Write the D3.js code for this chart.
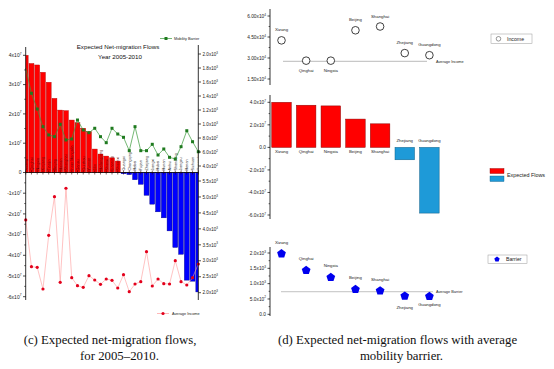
<!DOCTYPE html>
<html><head><meta charset="utf-8">
<script src="https://cdnjs.cloudflare.com/ajax/libs/d3/7.8.5/d3.min.js"></script>
<style>body{margin:0;background:#fff}svg{display:block}text{font-family:"Liberation Sans",Arial,sans-serif}</style>
</head><body>
<script>
// ---------- Panel (c) data ----------
const provinces = ["Xizang","Qinghai","Ningxia","Xinjiang","Tianjin","Beijing","Hainan","Shanghai","Inner Mongolia","Gansu","Guizhou","Yunnan","Jilin","Heilongjiang","Shanxi","Liaoning","Shaanxi",
  "Guangxi","Chongqing","Hebei","Fujian","Zhejiang","Jiangxi","Hubei","Hunan","Anhui","Shandong","Jiangsu","Henan","Sichuan","Guangdong"];
const flows = [4.0e7,3.72e7,3.67e7,3.42e7,3.08e7,2.53e7,2.13e7,2.11e7,1.79e7,1.70e7,1.51e7,1.39e7,0.80e7,0.63e7,0.56e7,0.50e7,0.39e7,
  -0.06e7,-0.1e7,-0.35e7,-0.57e7,-1.1e7,-1.53e7,-1.9e7,-2.19e7,-2.82e7,-3.62e7,-3.95e7,-5.2e7,-5.25e7,-5.77e7];
const mobilityBarrier = [1800,1439,1214,962,843,819,996,772,786,1057,914,876,939,819,733,939,857,
  810,619,962,619,619,710,557,643,524,500,676,904,747,604];
const avgIncomeC = [4279,2815,2796,2116,3799,5009,2326,5273,2470,2219,2169,2533,2398,2263,2429,2389,2147,
  2564,2031,2273,2345,3285,2210,2429,2282,2273,3003,2345,2241,2470,2900];
const cLeftTicksPos = [0,1e7,2e7,3e7,4e7];
const cLeftLabelsPos = ["0","1x10^7","2x10^7","3x10^7","4x10^7"];
const cLeftTicksNeg = [-1e7,-2e7,-3e7,-4e7,-5e7,-6e7];
const cLeftLabelsNeg = ["-1x10^7","-2x10^7","-3x10^7","-4x10^7","-5x10^7","-6x10^7"];
const cBarrierTicks = [400,600,800,1000,1200,1400,1600,1800,2000];
const cBarrierLabels = ["4.0x10^2","6.0x10^2","8.0x10^2","1.0x10^3","1.2x10^3","1.4x10^3","1.6x10^3","1.8x10^3","2.0x10^3"];
const cIncomeTicks = [2000,2500,3000,3500,4000,4500,5000,5500];
const cIncomeLabels = ["2.0x10^3","2.5x10^3","3.0x10^3","3.5x10^3","4.0x10^3","4.5x10^3","5.0x10^3","5.5x10^3"];

// ---------- Panel (d) data ----------
const dProvinces = ["Xizang","Qinghai","Ningxia","Beijing","Shanghai","Zhejiang","Guangdong"];
const dIncome = [4.26e4,2.81e4,2.81e4,4.98e4,5.25e4,3.35e4,3.2e4];
const dFlows = [4.0e7,3.74e7,3.68e7,2.51e7,2.09e7,-1.1e7,-5.83e7];
const dBarrier = [1978,1434,1206,814,768,596,587];
const averageIncome = 2.76e4;
const averageBarrier = 737;
const dIncTicks = [1.5e4,3.0e4,4.5e4,6.0e4];
const dIncLabels = ["1.50x10^4","3.00x10^4","4.50x10^4","6.00x10^4"];
const dFlowTicks = [-6e7,-4e7,-2e7,0,2e7,4e7];
const dFlowLabels = ["-6.0x10^7","-4.0x10^7","-2.0x10^7","0.0","2.0x10^7","4.0x10^7"];
const dBarTicks = [0,500,1000,1500,2000];
const dBarLabels = ["0.0","5.0x10^2","1.0x10^3","1.5x10^3","2.0x10^3"];

const svg = d3.select("body").append("svg").attr("width",554).attr("height",369);

function sci(sel, label, fs){
  const p = label.split("^");
  sel.text(null);
  sel.append("tspan").text(p[0]);
  if(p.length>1) sel.append("tspan").attr("dy",-fs*0.45).attr("font-size",fs*0.65).text(p[1]);
}
function axisV(g, x, y0, y1, ticks, labels, scale, side, fs, minor){
  g.append("line").attr("x1",x).attr("x2",x).attr("y1",y0).attr("y2",y1).attr("stroke","#000").attr("stroke-width",0.8);
  const dir = side==="left"?-1:1;
  ticks.forEach((t,i)=>{
    const y = scale(t);
    g.append("line").attr("x1",x).attr("x2",x+dir*2.5).attr("y1",y).attr("y2",y).attr("stroke","#000").attr("stroke-width",0.7);
    const tx = g.append("text").attr("x",x+dir*4).attr("y",y+fs*0.35).attr("font-size",fs).attr("fill","#222")
      .attr("text-anchor",side==="left"?"end":"start");
    sci(tx, labels[i], fs);
    if(minor && i<ticks.length-1){
      const ym = scale((t+ticks[i+1])/2);
      g.append("line").attr("x1",x).attr("x2",x+dir*1.4).attr("y1",ym).attr("y2",ym).attr("stroke","#000").attr("stroke-width",0.6);
    }
  });
}

// ================= Panel (c) =================
const gc = svg.append("g");
const xC = d3.scaleLinear().domain([0,30]).range([25.7,198.3]);
const yTop = d3.scaleLinear().domain([0,4e7]).range([172.5,55.3]);
const yBot = d3.scaleLinear().domain([0,-6e7]).range([172.5,296.7]);
const yBarrierC = d3.scaleLinear().domain([400,2000]).range([166,54]);
const yIncomeC = d3.scaleLinear().domain([2000,5500]).range([292.7,181]);
const bw = 4.9;

gc.append("clipPath").attr("id","cclip").append("rect").attr("x",25.7).attr("y",40).attr("width",172.6).attr("height",270);
const bars = gc.append("g").attr("clip-path","url(#cclip)");
flows.forEach((v,i)=>{
  const x = xC(i)-bw/2;
  if(v>=0){
    bars.append("rect").attr("x",x).attr("width",bw).attr("y",yTop(v)).attr("height",yTop(0)-yTop(v))
      .attr("fill","#ff0000").attr("stroke","#b00000").attr("stroke-width",0.4);
  } else {
    bars.append("rect").attr("x",x).attr("width",bw).attr("y",yBot(0)).attr("height",yBot(v)-yBot(0))
      .attr("fill","#0000ff").attr("stroke","#000080").attr("stroke-width",0.4);
  }
});
// province labels
provinces.forEach((p,i)=>{
  bars.append("text").attr("transform",`translate(${xC(i)+1.4},170.5) rotate(-90)`)
    .attr("font-size",3.8).attr("fill",flows[i]>=0?"#5a0000":"#222").text(p);
});
// zero axis
gc.append("line").attr("x1",25.7).attr("x2",198.3).attr("y1",172.5).attr("y2",172.5).attr("stroke","#000").attr("stroke-width",0.8);
flows.forEach((v,i)=>{
  gc.append("line").attr("x1",xC(i)).attr("x2",xC(i)).attr("y1",170.5).attr("y2",174.5).attr("stroke","#300").attr("stroke-width",0.6);
});
// income line (bottom)
const lineInc = d3.line().x((d,i)=>xC(i)).y(d=>yIncomeC(d));
gc.append("path").attr("d",lineInc(avgIncomeC)).attr("fill","none").attr("stroke","#ff9a9a").attr("stroke-width",0.6);
avgIncomeC.forEach((v,i)=>gc.append("circle").attr("cx",xC(i)).attr("cy",yIncomeC(v)).attr("r",1.6).attr("fill","#e3001b"));
// barrier line (top)
const lineBar = d3.line().x((d,i)=>xC(i)).y(d=>yBarrierC(d));
gc.append("path").attr("d",lineBar(mobilityBarrier)).attr("fill","none").attr("stroke","#3a9a3a").attr("stroke-width",0.7);
mobilityBarrier.forEach((v,i)=>{ if(i>0) gc.append("rect").attr("x",xC(i)-1.5).attr("y",yBarrierC(v)-1.5).attr("width",3).attr("height",3).attr("fill","#1f7a1f"); });
// axes
const gl = gc.append("g");
gl.append("line").attr("x1",25.7).attr("x2",25.7).attr("y1",47).attr("y2",300).attr("stroke","#000").attr("stroke-width",0.8);
cLeftTicksPos.forEach((t,i)=>{
  const y=yTop(t);
  gl.append("line").attr("x1",25.7).attr("x2",23).attr("y1",y).attr("y2",y).attr("stroke","#000").attr("stroke-width",0.7);
  sci(gl.append("text").attr("x",21.5).attr("y",y+1.8).attr("font-size",5).attr("text-anchor","end").attr("fill","#222"), cLeftLabelsPos[i], 5);
  if(i<cLeftTicksPos.length-1){const ym=yTop(t+5e6);gl.append("line").attr("x1",25.7).attr("x2",24.2).attr("y1",ym).attr("y2",ym).attr("stroke","#000").attr("stroke-width",0.6);}
});
cLeftTicksNeg.forEach((t,i)=>{
  const y=yBot(t);
  gl.append("line").attr("x1",25.7).attr("x2",23).attr("y1",y).attr("y2",y).attr("stroke","#000").attr("stroke-width",0.7);
  sci(gl.append("text").attr("x",21.5).attr("y",y+1.8).attr("font-size",5).attr("text-anchor","end").attr("fill","#222"), cLeftLabelsNeg[i], 5);
  const ym=yBot(t+5e6);gl.append("line").attr("x1",25.7).attr("x2",24.2).attr("y1",ym).attr("y2",ym).attr("stroke","#000").attr("stroke-width",0.6);
});
const gr = gc.append("g");
gr.append("line").attr("x1",198.3).attr("x2",198.3).attr("y1",45).attr("y2",300).attr("stroke","#000").attr("stroke-width",0.8);
cBarrierTicks.forEach((t,i)=>{
  const y=yBarrierC(t);
  gr.append("line").attr("x1",198.3).attr("x2",201).attr("y1",y).attr("y2",y).attr("stroke","#000").attr("stroke-width",0.7);
  sci(gr.append("text").attr("x",202.5).attr("y",y+1.7).attr("font-size",4.6).attr("fill","#222"), cBarrierLabels[i], 4.6);
});
cIncomeTicks.forEach((t,i)=>{
  const y=yIncomeC(t);
  gr.append("line").attr("x1",198.3).attr("x2",201).attr("y1",y).attr("y2",y).attr("stroke","#000").attr("stroke-width",0.7);
  sci(gr.append("text").attr("x",202.5).attr("y",y+1.7).attr("font-size",4.6).attr("fill","#222"), cIncomeLabels[i], 4.6);
});
// title
gc.append("text").attr("x",118).attr("y",48.5).attr("text-anchor","middle").attr("font-size",6.2).attr("fill","#111").text("Expected Net-migration Flows");
gc.append("text").attr("x",120).attr("y",59).attr("text-anchor","middle").attr("font-size",6.2).attr("fill","#111").text("Year 2005-2010");
// legends (c)
gc.append("line").attr("x1",160).attr("x2",172).attr("y1",38.5).attr("y2",38.5).attr("stroke","#3a9a3a").attr("stroke-width",0.7);
gc.append("rect").attr("x",164.5).attr("y",37).attr("width",3).attr("height",3).attr("fill","#1f7a1f");
gc.append("text").attr("x",174).attr("y",40).attr("font-size",3.8).attr("fill","#222").text("Mobility Barrier");
gc.append("line").attr("x1",157).attr("x2",169).attr("y1",313.5).attr("y2",313.5).attr("stroke","#ff9a9a").attr("stroke-width",0.7);
gc.append("circle").attr("cx",163).attr("cy",313.5).attr("r",1.6).attr("fill","#e3001b");
gc.append("text").attr("x",172).attr("y",315).attr("font-size",3.8).attr("fill","#222").text("Average Income");

// ================= Panel (d) =================
const gd = svg.append("g");
const xD = d3.scaleLinear().domain([0,6]).range([281.5,429.4]);
const yInc = d3.scaleLinear().domain([1.5e4,6e4]).range([79,16]);
const yFlow = d3.scaleLinear().domain([-6e7,4e7]).range([215,102.3]);
const yBarD = d3.scaleLinear().domain([0,2000]).range([314.3,253]);

axisV(gd,270,9,85,dIncTicks,dIncLabels,yInc,"left",4.8,true);
axisV(gd,270,95,219,dFlowTicks,dFlowLabels,yFlow,"left",4.8,true);
axisV(gd,270,247,316,dBarTicks,dBarLabels,yBarD,"left",4.8,true);

// income sub-plot
gd.append("line").attr("x1",283).attr("x2",427).attr("y1",yInc(averageIncome)).attr("y2",yInc(averageIncome)).attr("stroke","#c8c8c8").attr("stroke-width",1.2);
gd.append("text").attr("x",436).attr("y",yInc(averageIncome)+1.8).attr("font-size",3.8).attr("fill","#222").text("Average Income");
const incLabelBelow = [false,true,true,false,false,false,false];
dIncome.forEach((v,i)=>{
  gd.append("circle").attr("cx",xD(i)).attr("cy",yInc(v)).attr("r",3.8).attr("fill","#fff").attr("stroke","#111").attr("stroke-width",0.8);
  gd.append("text").attr("x",xD(i)).attr("y",incLabelBelow[i]?yInc(v)+11:yInc(v)-9).attr("text-anchor","middle").attr("font-size",4.3).attr("fill","#222").text(dProvinces[i]);
});
// flows sub-plot
const bwD = 19.5;
dFlows.forEach((v,i)=>{
  const y0 = yFlow(Math.max(0,v)), y1 = yFlow(Math.min(0,v));
  gd.append("rect").attr("x",xD(i)-bwD/2).attr("width",bwD).attr("y",y0).attr("height",y1-y0)
    .attr("fill",v>=0?"#ff0000":"#1e9ad8").attr("stroke",v>=0?"#8a0000":"#0d5f88").attr("stroke-width",0.5);
  gd.append("text").attr("x",xD(i)).attr("y",v>=0?yFlow(0)+5.5:yFlow(0)-5).attr("text-anchor","middle").attr("font-size",4.3).attr("fill","#222").text(dProvinces[i]);
});
// barrier sub-plot
gd.append("line").attr("x1",281).attr("x2",433).attr("y1",yBarD(averageBarrier)).attr("y2",yBarD(averageBarrier)).attr("stroke","#999").attr("stroke-width",0.6);
gd.append("text").attr("x",436).attr("y",yBarD(averageBarrier)+1.5).attr("font-size",3.8).attr("fill","#222").text("Average Barrier");
function pentagon(cx,cy,r){
  return d3.range(5).map(k=>{const a=(-90+72*k)*Math.PI/180;return [cx+r*Math.cos(a),cy+r*Math.sin(a)];});
}
const barLabelBelow = [false,false,false,false,false,true,true];
dBarrier.forEach((v,i)=>{
  gd.append("polygon").attr("points",pentagon(xD(i),yBarD(v),4.6).map(p=>p.join(",")).join(" ")).attr("fill","#0000ee");
  gd.append("text").attr("x",xD(i)).attr("y",barLabelBelow[i]?yBarD(v)+(i===5?13:10):yBarD(v)-10).attr("text-anchor","middle").attr("font-size",4.3).attr("fill","#222").text(dProvinces[i]);
});
// legends (d)
gd.append("rect").attr("x",491).attr("y",34).attr("width",41).attr("height",9.5).attr("fill","#fff").attr("stroke","#999").attr("stroke-width",0.5);
gd.append("circle").attr("cx",498.5).attr("cy",38.8).attr("r",2.3).attr("fill","#fff").attr("stroke","#333").attr("stroke-width",0.5);
gd.append("text").attr("x",507).attr("y",40.8).attr("font-size",5.2).attr("fill","#222").text("Income");
gd.append("rect").attr("x",490).attr("y",168.5).attr("width",14).attr("height",5).attr("fill","#ff0000").attr("stroke","#8a0000").attr("stroke-width",0.4);
gd.append("rect").attr("x",490).attr("y",176).attr("width",14).attr("height",5.5).attr("fill","#1e9ad8").attr("stroke","#0d5f88").attr("stroke-width",0.4);
gd.append("text").attr("x",507).attr("y",176.8).attr("font-size",5.4).attr("fill","#222").text("Expected Flows");
gd.append("rect").attr("x",488).attr("y",255).attr("width",39).attr("height",8.5).attr("fill","#fff").attr("stroke","#999").attr("stroke-width",0.5);
gd.append("polygon").attr("points",pentagon(497,259.3,2.8).map(p=>p.join(",")).join(" ")).attr("fill","#0000ee");
gd.append("text").attr("x",506).attr("y",261.3).attr("font-size",5.2).attr("fill","#222").text("Barrier");

// ================= Captions =================
const cap = svg.append("g").attr("fill","#111");
cap.append("text").attr("x",110).attr("y",344).attr("text-anchor","middle").attr("font-size",12.8).style("font-family","'Liberation Serif',serif").text("(c) Expected net-migration flows,");
cap.append("text").attr("x",119.5).attr("y",360).attr("text-anchor","middle").attr("font-size",12.8).style("font-family","'Liberation Serif',serif").text("for 2005–2010.");
cap.append("text").attr("x",397.5).attr("y",344).attr("text-anchor","middle").attr("font-size",12.8).style("font-family","'Liberation Serif',serif").text("(d) Expected net-migration flows with average");
cap.append("text").attr("x",401.5).attr("y",360).attr("text-anchor","middle").attr("font-size",12.8).style("font-family","'Liberation Serif',serif").text("mobility barrier.");
</script>
</body></html>
